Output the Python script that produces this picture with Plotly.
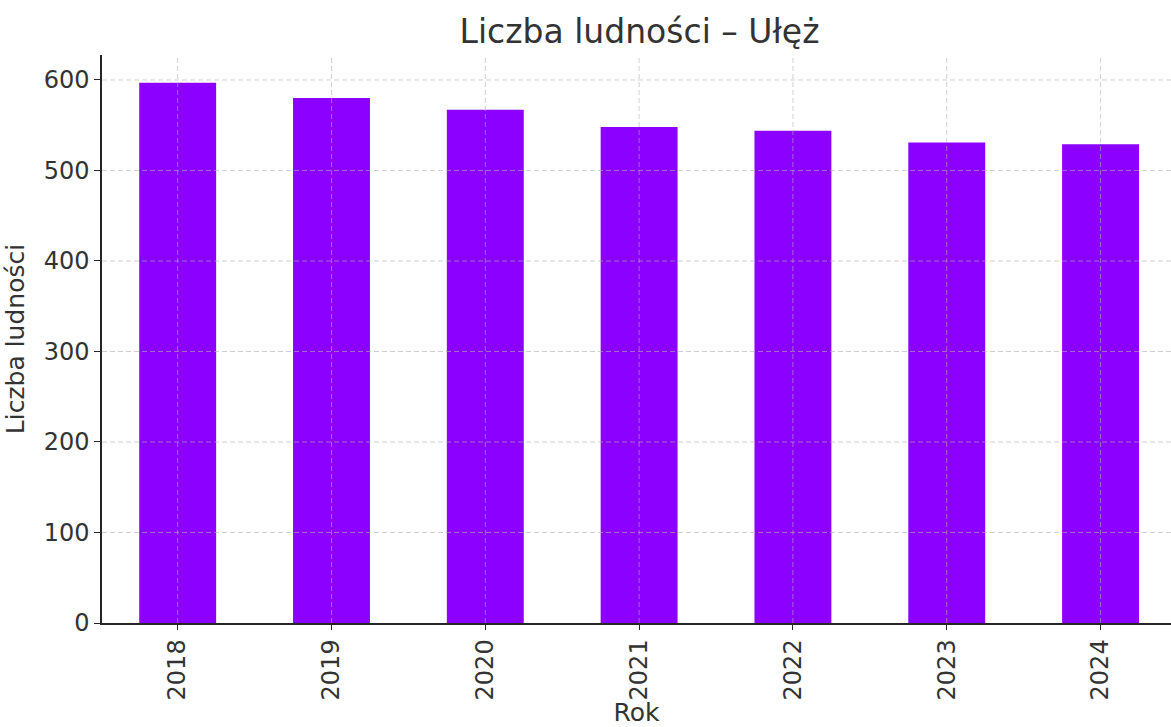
import plotly.graph_objects as go

years = ["2018", "2019", "2020", "2021", "2022", "2023", "2024"]
population = [597, 580, 567, 548, 544, 531, 529]
y_ticks = [0, 100, 200, 300, 400, 500, 600]

TEXT = "#333333"
FONT = "DejaVu Sans"

fig = go.Figure(
    go.Bar(
        x=years,
        y=population,
        width=0.5,
        marker=dict(color="#8B00FF", line=dict(width=0)),
    )
)

shapes = []
grid_style = dict(color="rgba(176,176,176,0.6)", width=1, dash="5px,3px")
for v in y_ticks[1:]:
    shapes.append(dict(type="line", xref="paper", yref="y", x0=0, x1=1, y0=v, y1=v,
                       line=grid_style, layer="above"))
for i, _ in enumerate(years):
    shapes.append(dict(type="line", xref="x", yref="paper", x0=i, x1=i, y0=0, y1=1,
                       line=grid_style, layer="above"))

fig.update_layout(
    width=1171,
    height=727,
    margin=dict(l=102, r=0, t=55, b=104),
    paper_bgcolor="white",
    plot_bgcolor="white",
    font=dict(family=FONT, color=TEXT, size=24),
    title=dict(
        text="Liczba ludności – Ułęż",
        font=dict(family=FONT, size=33, color=TEXT),
        x=0.5028,
        xanchor="center",
        xref="paper",
        y=0.957,
        yanchor="middle",
        yref="container",
    ),
    showlegend=False,
    bargap=0.5,
    shapes=shapes,
    xaxis=dict(
        type="category",
        range=[-0.492, 6.458],
        tickangle=-90,
        ticks="outside",
        ticklen=5,
        tickwidth=1.2,
        tickcolor="#262626",
        showline=True,
        linecolor="#262626",
        linewidth=1.5,
        showgrid=False,
        tickfont=dict(size=24, color=TEXT),
        title=dict(text="Rok", font=dict(size=25, color=TEXT), standoff=6),
    ),
    yaxis=dict(
        range=[0, 627.6],
        tickvals=y_ticks,
        ticks="outside",
        ticklen=6,
        tickwidth=1.2,
        tickcolor="#262626",
        showline=True,
        linecolor="#262626",
        linewidth=1.5,
        showgrid=False,
        zeroline=False,
        tickfont=dict(size=24, color=TEXT),
        title=dict(text="Liczba ludności", font=dict(size=25, color=TEXT), standoff=12),
    ),
)

fig.write_html(
    "out.html",
    config={"displayModeBar": False},
    post_script="document.body.style.margin='0';document.body.style.overflow='hidden';",
)
